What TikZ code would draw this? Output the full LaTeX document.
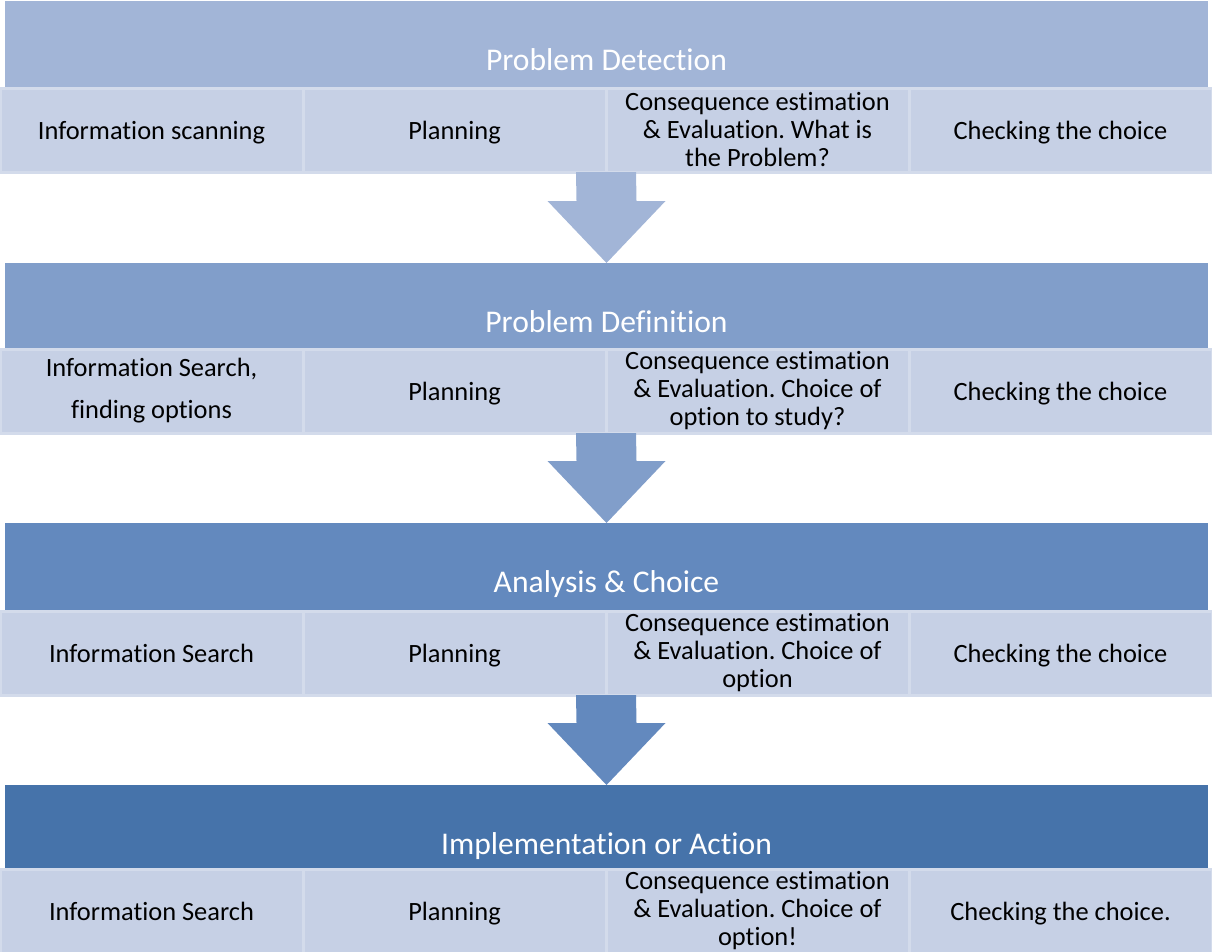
\documentclass[tikz,border=0pt]{standalone}
\usepackage{fontspec}
\setmainfont{Carlito}
\usetikzlibrary{positioning,calc}

\definecolor{band1}{HTML}{A2B5D7}
\definecolor{band2}{HTML}{819ECA}
\definecolor{band3}{HTML}{6389BE}
\definecolor{band4}{HTML}{4673AA}
\definecolor{cellfill}{HTML}{C6D0E5}
\definecolor{cellrim}{HTML}{D3DBEB}

\frenchspacing
% keep "ti" and "fi" apart, as in the original
\XeTeXinterchartokenstate=1
\newXeTeXintercharclass\iletter
\XeTeXcharclass`\i=\iletter
\XeTeXinterchartoks 0 \iletter = {\kern0pt}

\begin{document}
\begin{tikzpicture}[x=0.75pt,y=-0.75pt,
  head/.style={rectangle,anchor=north west,inner sep=0pt,outer sep=0pt,
    minimum width=902.25pt,minimum height=65pt,text=white,
    text height=39pt,text depth=0pt,font=\fontsize{23.7}{26}\selectfont},
  cell/.style={rectangle,draw=cellrim,fill=cellfill,line width=2.25pt,
    inner sep=0pt,outer sep=0pt,minimum width=227.25pt,minimum height=63pt,
    align=center,font=\fontsize{19.8}{21}\selectfont},
  single/.style={cell,text height=21pt,text depth=6.3pt}]

  \useasboundingbox (0,0) rectangle (1212,951);

  % detection
  \node[head,fill=band1] (1) at (5,1) {Problem Detection};
  \node[single,anchor=north west] (1a) at (0,88) {Information scanning};
  \node[single] (1b) [right=0pt of 1a] {Planning};
  \node[cell] (1c) [right=0pt of 1b] {Consequence estimation\\ \& Evaluation. What is\\ the Problem?};
  \node[single] (1d) [right=0pt of 1c] {Checking the choice};

  % definition
  \node[head,fill=band2] (2) at (5,263) {Problem Definition};
  \node[cell,anchor=north west] (2a) at (0,349) {Information Search,\\[10.5pt] finding options};
  \node[single] (2b) [right=0pt of 2a] {Planning};
  \node[cell] (2c) [right=0pt of 2b] {Consequence estimation\\ \& Evaluation. Choice of\\ option to study?};
  \node[single] (2d) [right=0pt of 2c] {Checking the choice};

  % analysis
  \node[head,fill=band3] (3) at (5,523) {Analysis \& Choice};
  \node[single,anchor=north west] (3a) at (0,611) {Information Search};
  \node[single] (3b) [right=0pt of 3a] {Planning};
  \node[cell] (3c) [right=0pt of 3b] {Consequence estimation\\ \& Evaluation. Choice of\\ option};
  \node[single] (3d) [right=0pt of 3c] {Checking the choice};

  % action
  \node[head,fill=band4] (4) at (5,785) {Implementation or Action};
  \node[single,anchor=north west] (4a) at (0,869) {Information Search};
  \node[single] (4b) [right=0pt of 4a] {Planning};
  \node[cell] (4c) [right=0pt of 4b] {Consequence estimation\\ \& Evaluation. Choice of\\ option!};
  \node[single] (4d) [right=0pt of 4c] {Checking the choice.};

  % block arrows between the bands
  \fill[band1] ($(1b.south east)+(-30,0)$) -- ($(2.north)+(-30,-62)$) -- ++(-29,0)
    -- (2.north) -- ++(59,-62) -- ++(-29,0) -- ($(1b.south east)+(30,0)$) -- cycle;
  \fill[band2] ($(2b.south east)+(-30,0)$) -- ($(3.north)+(-30,-62)$) -- ++(-29,0)
    -- (3.north) -- ++(59,-62) -- ++(-29,0) -- ($(2b.south east)+(30,0)$) -- cycle;
  \fill[band3] ($(3b.south east)+(-30,0)$) -- ($(4.north)+(-30,-62)$) -- ++(-29,0)
    -- (4.north) -- ++(59,-62) -- ++(-29,0) -- ($(3b.south east)+(30,0)$) -- cycle;
\end{tikzpicture}
\end{document}
